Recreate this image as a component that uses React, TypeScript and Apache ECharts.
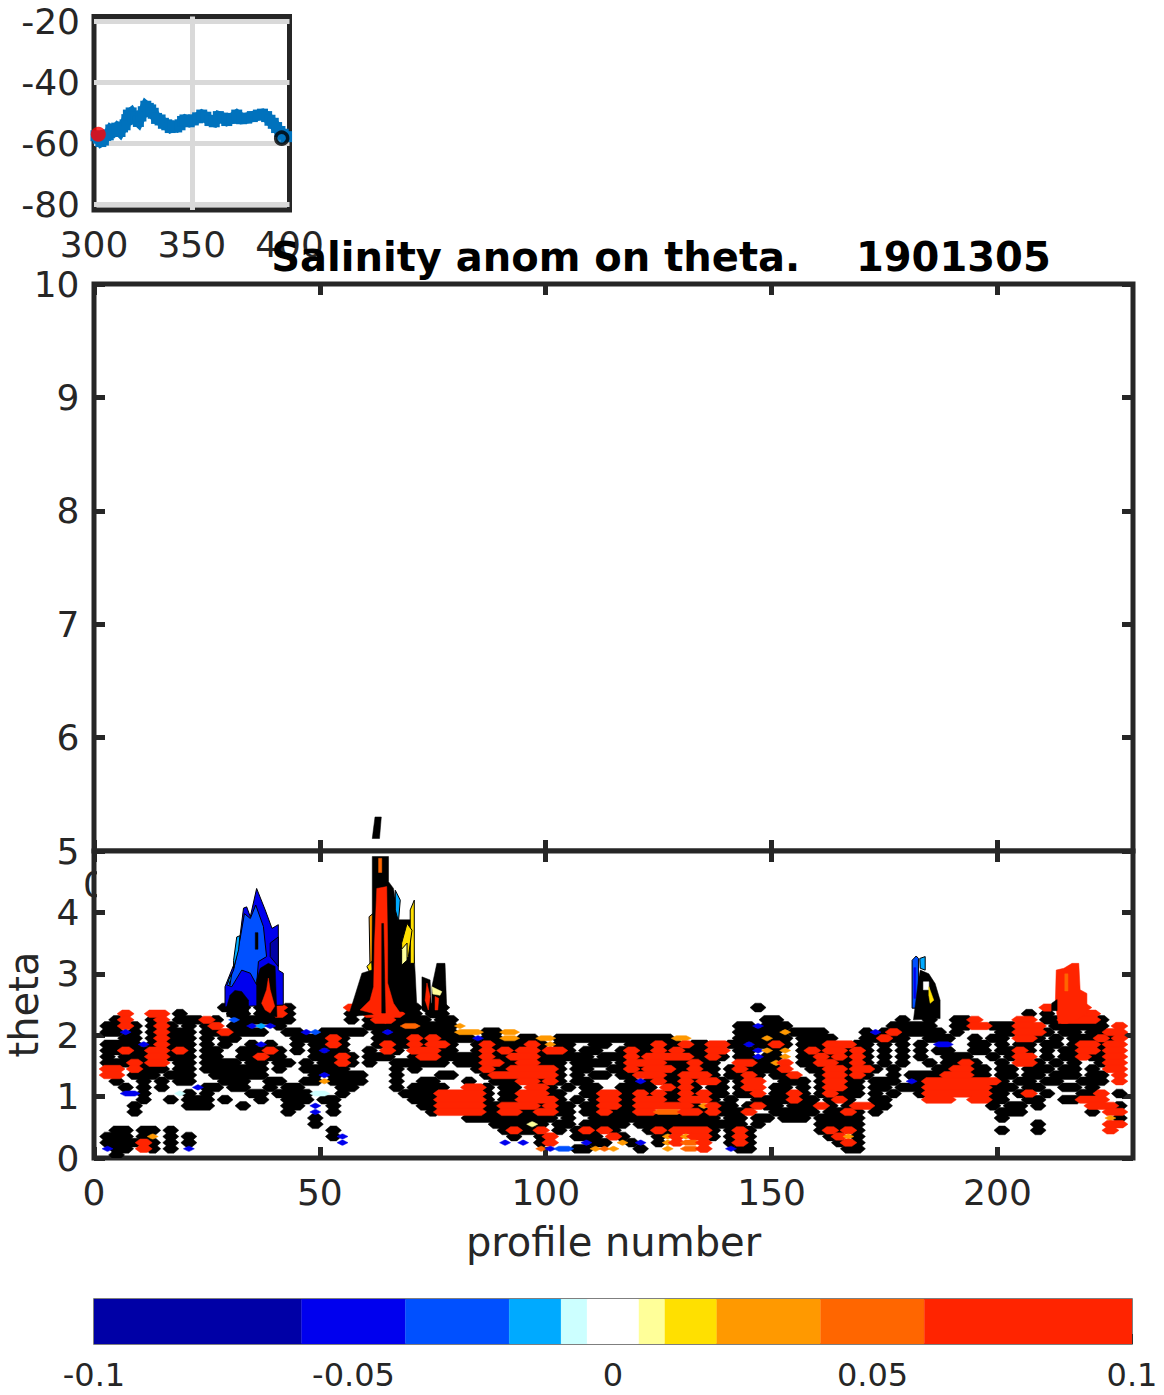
import React, { useEffect, useRef } from "react";
import * as echarts from "echarts";

const INK = "#262626";
const FONT = "DejaVu Sans";

// Float track (inset)
const trackLon = [301, 302.2, 303.5, 304.8, 306, 307.3, 308.6, 309.9, 311.6, 313.3, 314.6, 315.9, 316.8, 317.6, 319, 320.1, 321.4, 322.7, 324, 325.2, 326.5, 327.8, 329, 330.3, 332, 333.8, 335.5, 337.2, 339, 340.6, 342.3, 344, 345.3, 346.5, 348.7, 350.8, 353, 355.1, 357.2, 359.3, 361.5, 363.6, 365.8, 367.9, 370.5, 373, 375.5, 378.1, 381, 384.1, 386.2, 388.3, 390, 391.7, 393.4, 395.1, 396.8, 398.5];
const trackLat = [-57.5, -58.3, -59.4, -58.9, -57.4, -57.2, -55.6, -56.1, -55, -56.1, -54.6, -53.9, -52.2, -50.7, -50, -51.2, -52, -52.8, -51, -49.6, -47.8, -48.5, -49, -50.1, -51.8, -52.3, -53.4, -53.9, -54.8, -54.3, -54.6, -53.9, -52.8, -52.3, -52.9, -52.3, -51.6, -50.7, -51.4, -52.5, -52.9, -51.2, -51.7, -52.5, -51.8, -50.7, -51.9, -51.7, -51.2, -50.7, -50.4, -51.2, -52.4, -53.4, -54.8, -56.1, -57, -57.8];
const firstFix = [302.2, -57];
const lastFix = [396, -58.3];
const insetXTicks = [300, 350, 400];
const insetYTicks = [-80, -60, -40, -20];

// Colour bar
const levels = [-0.1, -0.06, -0.04, -0.02, -0.01, -0.005, 0.005, 0.01, 0.02, 0.04, 0.06, 0.1];
const levelColors = ["#0000A6", "#0000EE", "#0050FF", "#00AAFF", "#CCFFFF", "#FFFFFF", "#FFFF99", "#FFE000", "#FF9900", "#FF6600", "#FF2400"];

// Anomaly class codes
const classColors: Record<string, string> = {
  k: "#000000", r: "#FF2400", o: "#FF6600", a: "#FF9900", y: "#FFE000", l: "#FFFF99",
  c: "#CCFFFF", s: "#00AAFF", m: "#0050FF", b: "#0000EE", d: "#0000A6", w: "#FFFFFF",
};

const profileTicks = [0, 50, 100, 150, 200];
const upperThetaTicks = [5, 6, 7, 8, 9, 10];
const lowerThetaTicks = [0, 1, 2, 3, 4];

// Field classes, theta 2.4-2.5 (top) down to 0-0.1 (bottom), one char per two profiles.
const field0to58 = [
  "..............kkk.krrk......rk",
  "...r..rr.k.....kk.kkrk......k.",
  "..kr..kr.kkkrk.mkkkkkk......k.",
  ".kkrk.krk.k.kr.kkbsbk.........",
  ".kkbk.krkkk.kkrkkkk..kkbmkkkkk",
  "...kk.krkkk.k.kk......kkkkrk..",
  ".kkkkbkrkkk.k.k..kbk..k.kkrk..",
  ".kkrkkrrkrk.kk..kkkrk.k.kbkk..",
  ".k.kkkrrkkk.kk..kkrkk...kkkrk.",
  ".kkkrkrr.kk.kkkk.kk.kk.k.kkrk.",
  ".rr.rkkk.kk.kkkkkkk.k..kkkkk..",
  ".rr.kkk.kkk..kkkkkk.....kbkkkk",
  "..k..k.k.kk...kkk..kk..kkakkkk",
  "...k.k.k...bkk.kk..k.kk....kk.",
  "...bbk...ck.k....kk.kkkkcc.k..",
  ".....k..k.kkk.k...k..kkk.kk...",
  "....k.....kkk...k....kk.b.k...",
  "....k................k..b.k...",
  "........................k.....",
  "........................k.....",
  "..kk.kk.k.................k...",
  ".kkk.ka.k.k...............kb..",
  ".kkkkrk.k.k................b..",
  ".bkk.rk.k.b...................",
  "..k...........................",
];
const field60to118 = [
  "rkrrkk.kk.....................",
  "rrrrkk.kk.....................",
  "krrkkkk.kk....................",
  "kkkkookkkka...................",
  ".kbkkkkkkkaaakkaa.............",
  ".kkkkrkrkkkkbkkaakkaakkkkkkkkk",
  ".krkkrkrrk..krkkkkrkakk..kk..k",
  "k.rk.rrrkk..krkrkrrkrrk.kk..kr",
  "kkk..krrkkkkkrkkrrrkkkkkk.kkkr",
  "k..kkkkkk.kkkrrkkrrkkk.kkkk.kr",
  "...k.k......krkkrrrrrk.kk..kkr",
  "...k....kk...krrrrrrrk.k.kk.kk",
  "...k..kk...k..kkkrrkrk.kk....k",
  "...k.kkkk..rrk.kk.rrk.k.kk..kk",
  "....kkkkrrrrrk.kkrrrkk..kkrrkk",
  ".....kkkrrrrrk.kkrrrrk.k.krrkk",
  "......kkrrrrrkkrrrrkrkk.kkrrkk",
  ".......krrrrrkkrrkkrrkk.kkrkkk",
  "...........kkkkkkkkkk.k..kkkkk",
  "..............kkkklk.kk.kkkkk.",
  "...............krkkr.k.krkrk..",
  "................k..kr..kkk.rk.",
  "...............b.b.kr...bkk.ak",
  "...................obmmkkaoa..",
  "..............................",
];
const field120to178 = [
  ".............k................",
  "..............................",
  "..............kk.............k",
  "...........kkbkkk...........kk",
  "...........kkkkkakkkk....kbkrk",
  "kkkkaa.....kkkakk.kkkk...kkrkk",
  "kkrkkrkkrrkkbkkrk.kkkrrrkk.k.k",
  "kkrkrkkkrr.kkbaka.krkrrkrk.k.k",
  "krrrrrkkrk.kkbkka.kkrkrkrk.k.k",
  "rrrkkkrkk..rrkkar.kkrrkkrk.k.k",
  "krrrkkrkk.krkkkkr..kkrrkrrk.k.",
  "rrrkkrrrk.kkrk.kkr..krrkrk..k.",
  "bkrkkrkrrk.krr..kkk.krrkk.kkk.",
  "kk.rkrk.kk.krr.kk.k.krrkk.kk.k",
  "rkrkkrkrkk.kkr.kkrk.krkkk.k.k.",
  "rrrkkrrrk.k..kkkkrkk.krk..kk..",
  "rrrrrrkarkk.krkk.kkkrk.krrkk..",
  "rrooorrkrkkkr..kkkkk.kkrk.k...",
  "kkkkkkkkk.kk.kk.kkk.kkkkk.....",
  "kkkkkkkkkkkk.k......kkkkk.....",
  ".krkrrrrk.krk.......krkrk.....",
  "..kararrk.krk........krak.....",
  "b.karoor..krk.........krk.....",
  "k..a.oor..bkk..........kk.....",
  "..............................",
];
const field180to226 = [
  "...............r.rrr....",
  "..k..........k.k.rrrr...",
  "..k..kkr....rr.kkrrrrk..",
  "kkk..kkrrkkkrrr.kkkkkk.r",
  "kkkk.k....kkrrrk.kk.kkrr",
  "..kkk..k.kk.rrk.k.kkkrkr",
  ".k.bb..kk.k.kk.kk.krrkrr",
  ".k.kk..kk.kkrk.k.kkrrkrr",
  ".k..kkk..k.krr.k.kkrkkrr",
  "..k.kkrk..k.rrk.k.k..krr",
  "...kkrrkk.kk.kkk.kk.k.rr",
  "kkkkrrrkk.kk.kk.kkk.kk.r",
  "bkrrrrrrrrk.kk.kk..kkk.r",
  "kkrrrrrrrkkk.kk..kk.k...",
  ".krrrrrrrkk.kr.k...kkr.k",
  "..rrr..rrkk..kk..kkrrr..",
  ".........k.kk.k.....rrrk",
  "..........kkk.......k.rr",
  "..........k...........ak",
  "..............k.......rr",
  "..........k...k.......r.",
  "........................",
  "........................",
  "........................",
  "........................",
];

// Warm and cold intrusions above theta 2.3 (profile, theta), drawn back to front.
const coldBody = [[29, 2.46], [29, 2.79], [30.9, 3.14], [32.3, 3.6], [33.1, 4.07], [33.8, 4.09], [34.6, 3.93], [36, 4.39], [37.9, 4.04], [39.4, 3.74], [40.8, 3.8], [40.8, 3.06], [41.9, 3.01], [41.9, 2.49]];
const coldCore = [[29.4, 2.82], [30.9, 3.06], [32.3, 3.55], [33.3, 3.98], [34.6, 3.9], [35.8, 4.12], [37.5, 3.77], [38.2, 3.28], [36.4, 3.2], [36, 2.82], [34.6, 3.01], [32.7, 3.06], [30.5, 2.79]];
const coldDeep = [[39, 3.5], [40.8, 3.6], [40.8, 3.12], [39, 3.28]];
const coldEdgeA = [[30.9, 3.09], [32, 3.39], [32.3, 3.62], [31.6, 3.6], [30.9, 3.22]];
const coldEdgeB = [[29.8, 2.9], [30.5, 3], [30.1, 2.82]];
const coldHole = [[35.7, 3.67], [36.3, 3.67], [36.3, 3.4], [35.7, 3.4]];
const coldBaseA = [[29.4, 2.47], [30.1, 2.65], [31.2, 2.73], [32.7, 2.71], [34.2, 2.57], [34.2, 2.3], [29.4, 2.3]];
const coldBaseB = [[36, 2.3], [36, 2.9], [36.8, 3.09], [38.6, 3.17], [40.1, 3.12], [40.5, 2.3]];
const coldBaseRed = [[37.1, 2.52], [38.2, 2.74], [38.6, 2.93], [39, 2.74], [40, 2.47], [39, 2.36], [37.9, 2.41]];
const plumeBody = [[61.6, 4.91], [65.2, 4.91], [65.2, 4.5], [66.3, 4.39], [67.4, 3.88], [70.4, 3.88], [71.1, 3.01], [71.5, 2.41], [56.3, 2.3], [59.3, 3.01], [61.5, 3.06], [61.6, 3.93]];
const plumeOrange = [[60.9, 3.93], [61.9, 3.99], [61.9, 3.06], [61.1, 3.12]];
const plumeYellowLeft = [[60.4, 3.12], [61.5, 3.2], [61.9, 2.9]];
const plumeSky = [[66.7, 4.36], [67.8, 4.2], [67.4, 3.85], [66.7, 4.04]];
const plumeRed = [[62.6, 4.39], [64.8, 4.42], [65, 3.5], [65, 2.85], [66.3, 2.52], [67.8, 2.36], [64.5, 2.19], [61.5, 2.36], [58.9, 2.41], [61.1, 2.57], [61.9, 2.79], [62.1, 3.5]];
const plumeSeam = [[63.7, 3.82], [64.1, 3.82], [64.5, 2.36], [63.7, 2.36]];
const plumeTop = [[63, 4.88], [63.7, 4.88], [63.7, 4.65], [63, 4.65]];
const plumeYellowRight = [[70, 4.04], [70.9, 4.2], [70.9, 3.17], [70, 3.17]];
const plumeYellowLow = [[68.1, 3.5], [69.3, 3.82], [70.4, 3.71], [69.6, 3.28], [68.1, 3.14]];
const plumePale = [[68.1, 3.4], [69.3, 3.5], [69.3, 3.22], [68.1, 3.14]];
const sideBlackA = [[72.6, 2.95], [74.4, 2.9], [74.8, 2.3], [72.6, 2.41]];
const sideBlackB = [[75.9, 3.17], [77.7, 3.17], [78.1, 2.41], [74.8, 2.41], [74.8, 2.79]];
const sideRedA = [[73.7, 2.85], [74.4, 2.63], [74, 2.41], [73.3, 2.57]];
const sideRedB = [[75.5, 2.63], [76.3, 2.6], [76.1, 2.41], [75.5, 2.41]];
const sidePale = [[74.8, 2.79], [77, 2.71], [76.6, 2.65], [75, 2.67]];
const east182Mid = [[181.1, 3.22], [182, 3.29], [182.5, 3.25], [182.5, 2.44], [181.1, 2.44]];
const east182Sky = [[182.8, 3.25], [184, 3.28], [184, 3.06], [182.9, 3.09]];
const east182Body = [[182.9, 3.06], [184.8, 3], [186.2, 2.84], [187.3, 2.57], [187.3, 2.27], [181.4, 2.25], [182.5, 2.9]];
const east182Hole = [[183.6, 2.87], [184.8, 2.87], [184.8, 2.74], [183.6, 2.74]];
const east182Yellow = [[184.8, 2.79], [185.9, 2.57], [185.1, 2.52], [184.8, 2.65]];
const east182Blue = [[181.5, 3.1], [181.9, 3.1], [181.9, 2.6], [181.5, 2.6]];
const east215Red = [[213, 3.06], [214.7, 3.09], [216.5, 3.17], [218, 3.17], [218.3, 2.74], [219.8, 2.68], [219.8, 2.36], [218, 2.27], [215.4, 2.19], [213.5, 2.19], [212.8, 2.52]];
const east215Base = [[212, 2.52], [213.2, 2.58], [213.2, 2.4], [212, 2.4]];
const east215Core = [[214.9, 3], [215.6, 3], [215.6, 2.72], [214.9, 2.72]];
const upperSpeck = [[62.2, 5.3], [63.6, 5.3], [63.2, 5.11], [61.6, 5.11]];

const lowerShapes: [string, number[][], boolean][] = [
  ["b", coldBody, true], ["m", coldCore, true], ["d", coldDeep, true], ["s", coldEdgeA, true], ["s", coldEdgeB, true],
  ["k", coldHole, false], ["k", coldBaseA, false], ["k", coldBaseB, false], ["r", coldBaseRed, false],
  ["a", plumeOrange, true], ["y", plumeYellowLeft, true], ["k", plumeBody, false], ["s", plumeSky, true], ["r", plumeRed, false],
  ["k", plumeSeam, false], ["o", plumeTop, false], ["y", plumeYellowRight, true], ["y", plumeYellowLow, true], ["l", plumePale, true],
  ["k", sideBlackA, false], ["k", sideBlackB, false], ["r", sideRedA, false], ["r", sideRedB, false], ["l", sidePale, false],
  ["m", east182Mid, true], ["b", east182Blue, false], ["s", east182Sky, true], ["k", east182Body, false], ["w", east182Hole, false], ["y", east182Yellow, false],
  ["r", east215Red, false], ["k", east215Base, false], ["o", east215Core, false],
];

const fieldRuns = (): any[] => {
  const runs: any[] = [];
  const top = field0to58.length - 1;
  field0to58.forEach((_, i) => {
    const row = field0to58[i].padEnd(30, ".") + field60to118[i].padEnd(30, ".") + field120to178[i].padEnd(30, ".") + field180to226[i];
    const lo = (top - i) / 10;
    let start = 0;
    for (let c = 1; c <= row.length; c++) {
      if (row[c] !== row[start]) {
        if (row[start] !== ".") runs.push([start * 2, c * 2, lo, lo + 0.1, row[start]]);
        start = c;
      }
    }
  });
  // Contour-black first, coloured classes over it
  return [...runs.filter((r) => r[4] === "k"), ...runs.filter((r) => r[4] !== "k")];
};

const polygonItem = (pts: number[][], code: string, outlined: boolean, api: any) => ({
  type: "polygon",
  shape: { points: pts.map((p) => api.coord(p)) },
  style: { fill: classColors[code], stroke: outlined ? "#000000" : classColors[code], lineWidth: outlined ? 1 : 0.5 },
});

const boxAxis = {
  axisLine: { show: false, onZero: false },
  axisTick: { inside: true, length: 11, lineStyle: { color: INK, width: 5 } },
  splitLine: { show: false },
};

const xFrame = (gridIndex: number, position: string) => ({
  ...boxAxis, type: "value", gridIndex, position, min: 0, max: 230,
  axisTick: { ...boxAxis.axisTick, customValues: profileTicks },
  axisLabel: { show: false },
});
const yFrame = (gridIndex: number, position: string, min: number, max: number, ticks: number[]) => ({
  ...boxAxis, type: "value", gridIndex, position, min, max,
  axisTick: { ...boxAxis.axisTick, customValues: ticks },
  axisLabel: { show: false },
});

const labelStyle = { color: INK, fontFamily: FONT, fontSize: 36 };

export default function App() {
  const ref = useRef<HTMLDivElement>(null);
  useEffect(() => {
    const chart = echarts.init(ref.current!, null, { renderer: "svg" });
    const borders = { show: true, borderColor: INK, borderWidth: 5, backgroundColor: "#FFFFFF", outerBoundsMode: "none" };
    chart.setOption({
      animation: false,
      backgroundColor: "#FFFFFF",
      textStyle: { fontFamily: FONT },
      title: {
        text: "Salinity anom on theta.    1901305",
        left: 656, top: 232, textAlign: "center",
        textStyle: { fontFamily: FONT, fontWeight: "bold", fontSize: 40, color: "#000000" },
      },
      graphic: [
        { type: "text", z: 5, left: 83, top: 866, style: { text: "0", font: `36px '${FONT}'`, fill: INK } },
        { type: "rect", z: 6, left: 97, top: 862, shape: { width: 16, height: 40 }, style: { fill: "#FFFFFF" } },
      ],
      grid: [
        { left: 94, top: 284, width: 1039, height: 567, ...borders, backgroundColor: "transparent" },
        { left: 94, top: 851, width: 1039, height: 307, ...borders },
        { left: 94, top: 16.5, width: 195.5, height: 193.5, ...borders },
        { left: 94, top: 1299, width: 1038, height: 45, show: true, borderColor: "#555555", borderWidth: 1.5, outerBoundsMode: "none" },
      ],
      xAxis: [
        xFrame(0, "bottom"),
        xFrame(0, "top"),
        {
          ...xFrame(1, "bottom"),
          axisLabel: { ...labelStyle, show: true, margin: 16, customValues: profileTicks },
          name: "profile number", nameLocation: "middle", nameGap: 64,
          nameTextStyle: { color: INK, fontFamily: FONT, fontSize: 40 },
        },
        xFrame(1, "top"),
        {
          type: "value", gridIndex: 2, min: 300, max: 400, position: "bottom",
          axisLine: { show: false, onZero: false }, axisTick: { show: false }, splitLine: { show: false },
          axisLabel: { ...labelStyle, margin: 16, customValues: insetXTicks },
        },
        {
          type: "value", gridIndex: 3, min: -0.1, max: 0.1, interval: 0.05, position: "bottom",
          axisLine: { show: false, onZero: false }, splitLine: { show: false },
          axisTick: { inside: true, length: 10, lineStyle: { color: "#333333", width: 1 } },
          axisLabel: { color: INK, fontFamily: FONT, fontSize: 32, margin: 15 },
        },
      ],
      yAxis: [
        {
          ...yFrame(0, "left", 5, 10, upperThetaTicks),
          axisLabel: { ...labelStyle, show: true, margin: 14.5, customValues: upperThetaTicks },
        },
        yFrame(0, "right", 5, 10, upperThetaTicks),
        {
          ...yFrame(1, "left", 0, 5, lowerThetaTicks),
          axisLabel: { ...labelStyle, show: true, margin: 14.5, customValues: lowerThetaTicks },
          name: "theta", nameLocation: "middle", nameGap: 50,
          nameTextStyle: { color: INK, fontFamily: FONT, fontSize: 40 },
        },
        yFrame(1, "right", 0, 5, lowerThetaTicks),
        {
          type: "value", gridIndex: 2, min: -81.9, max: -18.3,
          axisLine: { show: false, onZero: false }, axisTick: { show: false }, splitLine: { show: false },
          axisLabel: { ...labelStyle, margin: 14, customValues: insetYTicks },
        },
        {
          type: "value", gridIndex: 3, min: 0, max: 1,
          axisLine: { show: false, onZero: false }, axisTick: { show: false }, splitLine: { show: false }, axisLabel: { show: false },
        },
      ],
      series: [
        {
          type: "custom", xAxisIndex: 2, yAxisIndex: 2, z: 3, clip: true,
          data: fieldRuns(),
          encode: { x: [0, 1], y: [2, 3] },
          dimensions: ["x0", "x1", "lo", "hi", { name: "code", type: "ordinal" }],
          renderItem: (_: any, api: any) => {
            const code = api.value(4);
            const a = api.coord([api.value(0), api.value(3)]);
            const b = api.coord([api.value(1), api.value(2)]);
            const fill = classColors[code];
            const isBlack = code === "k";
            const dx = isBlack ? 4 : 4;
            const dy = isBlack ? 1.3 : code === "r" ? 0.6 : -0.5;
            const inset = isBlack ? 0.5 : code === "r" ? 0 : 3;
            const mid = (a[1] + b[1]) / 2;
            return {
              type: "polygon",
              shape: {
                points: [
                  [a[0] - dx + inset, mid],
                  [a[0] + 1 + inset, a[1] - dy],
                  [b[0] - 1 - inset, a[1] - dy],
                  [b[0] + dx - inset, mid],
                  [b[0] - 1 - inset, b[1] + dy],
                  [a[0] + 1 + inset, b[1] + dy],
                ],
              },
              style: { fill, stroke: fill, lineWidth: 0.5 },
            };
          },
        },
        {
          type: "custom", xAxisIndex: 2, yAxisIndex: 2, z: 4, clip: true,
          data: lowerShapes.map((_, i) => [i]),
          encode: { x: [], y: [] },
          renderItem: (p: any, api: any) => {
            const s = lowerShapes[p.dataIndex];
            return polygonItem(s[1], s[0], s[2], api);
          },
        },
        {
          type: "custom", xAxisIndex: 0, yAxisIndex: 0, z: 4, clip: true,
          data: [[0]],
          encode: { x: [], y: [] },
          renderItem: (_: any, api: any) => polygonItem(upperSpeck, "k", false, api),
        },
        {
          type: "line", xAxisIndex: 4, yAxisIndex: 4, z: 3, symbol: "rect", symbolSize: 11, showSymbol: true, showAllSymbol: true,
          data: trackLon.map((x, i) => [x, trackLat[i]]),
          itemStyle: { color: "#0072BD" },
          lineStyle: { color: "#0072BD", width: 11, join: "miter", cap: "butt" },
          markLine: {
            silent: true, symbol: "none", label: { show: false }, z: 1,
            lineStyle: { color: "#D9D9D9", width: 5, type: "solid" },
            data: [{ xAxis: 350 }, ...insetYTicks.map((v) => ({ yAxis: v }))],
          },
        },
        {
          type: "scatter", xAxisIndex: 4, yAxisIndex: 4, z: 5, symbol: "circle", symbolSize: 15,
          data: [firstFix], itemStyle: { color: "#FF0000" },
        },
        {
          type: "scatter", xAxisIndex: 4, yAxisIndex: 4, z: 5, symbol: "circle", symbolSize: 12,
          data: [lastFix], itemStyle: { color: "#0072BD", borderColor: "#000000", borderWidth: 3.5 },
        },
        {
          type: "custom", xAxisIndex: 5, yAxisIndex: 5, z: 1, clip: true,
          data: levelColors.map((_, i) => [levels[i], levels[i + 1]]),
          encode: { x: [0, 1], y: [] },
          renderItem: (p: any, api: any) => {
            const a = api.coord([api.value(0), 1]);
            const b = api.coord([api.value(1), 0]);
            const fill = levelColors[p.dataIndex];
            return { type: "rect", shape: { x: a[0], y: a[1], width: b[0] - a[0], height: b[1] - a[1] }, style: { fill, stroke: fill, lineWidth: 0.3 } };
          },
        },
      ],
    });
    return () => chart.dispose();
  }, []);
  return <div ref={ref} style={{ position: "absolute", left: 0, top: 0, width: 1164, height: 1395 }} />;
}
